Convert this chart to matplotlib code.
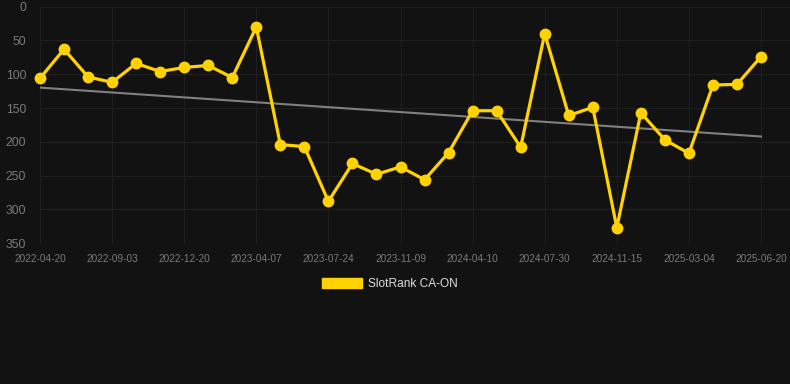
import matplotlib
matplotlib.use("Agg")
import matplotlib.pyplot as plt
import numpy as np
from matplotlib.patches import Patch

plt.rcParams['font.family'] = ['Liberation Sans', 'DejaVu Sans']

tick_labels = ["2022-04-20", "2022-09-03", "2022-12-20", "2023-04-07", "2023-07-24",
               "2023-11-09", "2024-04-10", "2024-07-30", "2024-11-15", "2025-03-04",
               "2025-06-20"]
rank = [106, 63, 104, 112, 84, 96, 90, 87, 105, 30,
        204, 207, 288, 232, 248, 237, 256, 216, 154, 154,
        208, 40, 161, 149, 327, 157, 197, 217, 116, 115, 74]
series_name = "SlotRank CA-ON"

bg = "#121212"
yellow = "#FFD200"

fig = plt.figure(figsize=(7.9, 3.84), dpi=100, facecolor=bg)
W, H = 790, 384
ax = fig.add_axes([40 / W, 1 - 243.3 / H, 750 / W, (243.3 - 6.6) / H])
ax.set_facecolor(bg)

x = np.arange(len(rank))
ax.plot(x, rank, color=yellow, lw=2.3, marker='o', ms=7.5, zorder=3, clip_on=False)

coef = np.polyfit(x, rank, 1)
ax.plot([x[0], x[-1]], np.polyval(coef, [x[0], x[-1]]), color="#808080", lw=1.5, zorder=2)

step = 3
ax.set_xlim(0, 750 / ((761 - 40) / 30))
ax.set_ylim(350, 0)
ax.set_xticks(x[::step])
ax.set_xticklabels(tick_labels)
ax.set_yticks([0, 50, 100, 150, 200, 250, 300, 350])

ax.grid(True, color="#1f1f1f", lw=0.8)
for s in ax.spines.values():
    s.set_visible(False)
ax.tick_params(axis='x', colors="#7a7a7a", labelsize=7.2, length=0, pad=8)
ax.tick_params(axis='y', colors="#7a7a7a", labelsize=8.7, length=0, pad=10)
ax.axhline(350, color="#2c2c2c", lw=0.8)

handle = Patch(facecolor=yellow, edgecolor=yellow)
fig.legend([handle], [series_name], loc='center', bbox_to_anchor=(390 / W, 1 - 284 / H),
           frameon=False, labelcolor="#dddddd", fontsize=8.6,
           handlelength=3.4, handleheight=0.9, handletextpad=0.5)

fig.savefig("out.png", dpi=100, facecolor=bg)
